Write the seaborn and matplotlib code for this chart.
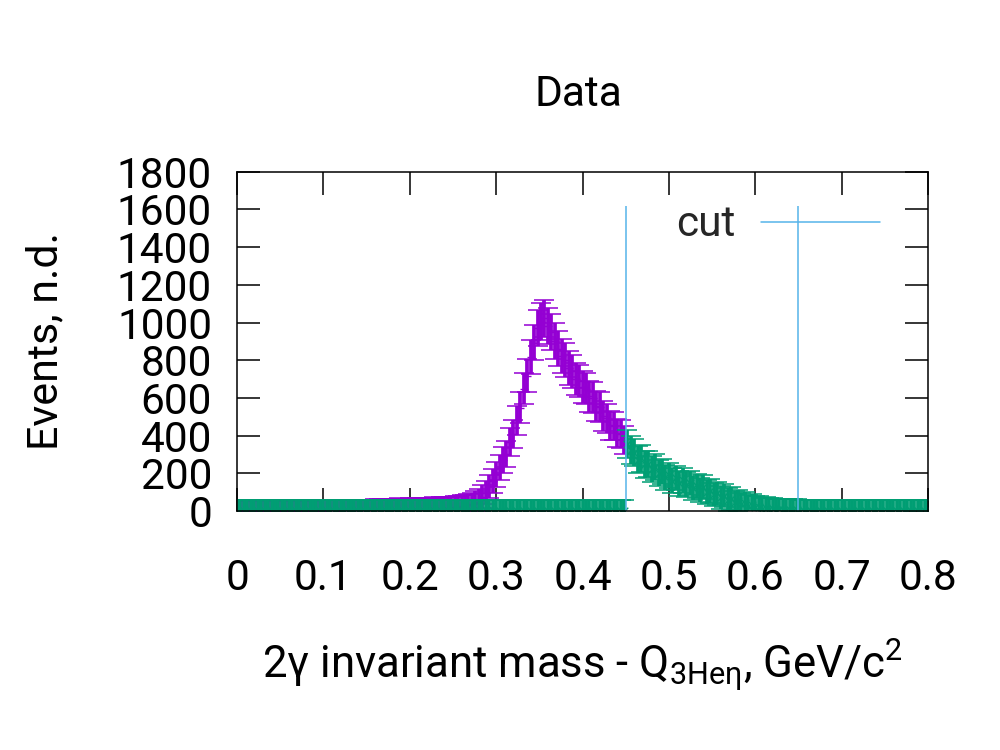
import numpy as np
import matplotlib
matplotlib.use("Agg")
import matplotlib.pyplot as plt
from matplotlib.lines import Line2D
import seaborn as sns

# ---------------- data ----------------
BIN_WIDTH = 0.004          # GeV/c^2 per bin
N_BINS = 201               # bins from 0 to 0.8

# purple: events below the cut window (bins 0..112)
purple_counts = [
    2, 0, 1, 3, 0, 2, 1, 0, 2, 3, 1, 0, 2, 1, 3, 2, 0, 1, 2, 3, 1, 2, 0, 3, 2,
    3, 2, 4, 3, 2, 5, 3, 4, 2, 5, 4, 3, 5, 6, 4,
    7, 5, 8, 6, 9, 7, 8, 10, 7, 9, 11, 8, 10, 12, 9,
    13, 11, 14, 12, 16, 14, 18, 16, 20, 19,
    24, 28, 33, 37, 47, 57, 76, 97, 130, 160,
    194, 229, 268, 302, 366, 409, 481, 549, 649, 718,
    815, 893, 972, 1003, 1022, 982, 951, 901, 862, 822,
    800, 758, 742, 700, 692, 656, 648, 608, 600, 558,
    550, 504, 492, 456, 450, 414, 409, 377,
]
purple_errors = [
    54, 54, 54, 54, 54, 54, 54, 54, 54, 54, 54, 54, 54, 54, 54, 54, 54, 54, 54, 54, 54, 54, 54, 54, 54,
    54, 54, 54, 54, 54, 54, 54, 54, 54, 54, 54, 54, 54, 54, 54,
    56, 56, 56, 56, 56, 56, 57, 57, 57, 57, 57, 57, 58, 58, 58,
    58, 58, 58, 58, 58, 58, 58, 58, 59, 59,
    59, 59, 59, 60, 60, 60, 61, 62, 63, 64,
    66, 67, 69, 70, 72, 74, 77, 80, 84, 87,
    90, 94, 97, 98, 99, 97, 96, 94, 92, 91,
    90, 89, 87, 86, 85, 85, 83, 83, 82, 81,
    80, 79, 77, 77, 76, 75, 74, 73,
]

# green: events inside the cut window (bins 113..162), zero elsewhere
green_first_bin = 113
green_counts = [
    356, 322, 310, 272, 279, 248, 250, 222, 232, 200,
    210, 178, 190, 160, 175, 148, 162, 140, 148, 122,
    133, 110, 125, 102, 106, 88, 94, 72, 81, 60,
    66, 47, 52, 36, 40, 26, 30, 19, 22, 12,
    15, 9, 11, 6, 8, 5, 7, 4, 6, 3,
]
green_errors = [
    76, 75, 73, 72, 71, 71, 70, 69, 69, 68,
    68, 67, 67, 66, 66, 66, 66, 65, 65, 64,
    64, 64, 64, 63, 63, 63, 62, 62, 62, 61,
    61, 60, 60, 60, 60, 59, 59, 59, 59, 59,
    59, 58, 58, 58, 58, 58, 58, 58, 58, 58,
]
empty_bin_error = 58

cut_positions = [0.45, 0.65]
cut_top = 1620
cut_label = "cut"

x_ticks = [0, 0.1, 0.2, 0.3, 0.4, 0.5, 0.6, 0.7, 0.8]
x_tick_labels = ["0", "0.1", "0.2", "0.3", "0.4", "0.5", "0.6", "0.7", "0.8"]
y_ticks = [0, 200, 400, 600, 800, 1000, 1200, 1400, 1600, 1800]
y_tick_labels = [str(v) for v in y_ticks]

title_text = "Data"
x_label = r"2γ invariant mass - Q$_{\mathregular{3Heη}}$, GeV/c$^{\mathregular{2}}$"
y_label = "Events, n.d."

PURPLE = "#9400D3"
GREEN = "#009E73"
BLUE = "#56B4E9"

# ---------------- style ----------------
sns.set_theme(style="ticks")
plt.rcParams["font.family"] = ["Roboto", "DejaVu Sans"]
plt.rcParams["mathtext.fontset"] = "custom"
plt.rcParams["mathtext.rm"] = "Roboto"
plt.rcParams["mathtext.it"] = "Roboto"
plt.rcParams["mathtext.default"] = "regular"

FS = 30.5

fig = plt.figure(figsize=(10, 7.5), dpi=100)
ax = fig.add_axes([0.237, 0.3187, 0.691, 0.4523])

purple_x = np.arange(len(purple_counts)) * BIN_WIDTH
all_x = np.arange(N_BINS) * BIN_WIDTH
green_y = np.zeros(N_BINS)
green_y[green_first_bin:green_first_bin + len(green_counts)] = green_counts
green_err = np.full(N_BINS, float(empty_bin_error))
green_err[green_first_bin:green_first_bin + len(green_errors)] = green_errors

EW = 2.7  # error-bar line width (pt); dense bins merge into a solid band

# purple data
ax.errorbar(purple_x, purple_counts, yerr=purple_errors, fmt="none",
            ecolor=PURPLE, elinewidth=EW, capsize=7, capthick=1.1, zorder=2)
sns.scatterplot(x=purple_x, y=purple_counts, marker="+", color=PURPLE,
                s=40, linewidth=1.0, ax=ax, zorder=2.1, legend=False)

# green data
ax.errorbar(all_x, green_y, yerr=green_err, fmt="none",
            ecolor=GREEN, elinewidth=EW, capsize=7, capthick=1.1, zorder=3)
sns.scatterplot(x=all_x, y=green_y, marker="x", color=GREEN,
                s=30, linewidth=1.0, ax=ax, zorder=3.1, legend=False)

# cut lines
ax.vlines(cut_positions, 0, cut_top, colors=BLUE, linewidth=1.1, zorder=4)

ax.set_xlim(0, 0.8)
ax.set_ylim(0, 1800)
ax.set_xticks(x_ticks)
ax.set_xticklabels(x_tick_labels)
ax.set_yticks(y_ticks)
ax.set_yticklabels(y_tick_labels)
ax.set_xlabel("")
ax.set_ylabel("")

for sp in ax.spines.values():
    sp.set_visible(True)
    sp.set_color("black")
    sp.set_linewidth(1.1)
    sp.set_zorder(5)

ax.tick_params(axis="both", which="major", direction="in", length=16.5,
               width=1.1, color="black", labelcolor="black",
               top=True, right=True, labelsize=FS)
ax.tick_params(axis="x", pad=34)
ax.tick_params(axis="y", pad=18)

ax.legend(handles=[Line2D([0], [0], color=BLUE, lw=1.1)], labels=[cut_label],
          loc="center right", bbox_to_anchor=(0.880, 0.700),
          bbox_transform=fig.transFigure, frameon=False, markerfirst=False,
          handlelength=2.8, handletextpad=0.6, borderpad=0, borderaxespad=0,
          fontsize=FS)

fig.text(0.578, 0.8587, title_text, ha="center", va="baseline", fontsize=FS, color="black")
fig.text(0.5825, 0.096, x_label, ha="center", va="baseline", fontsize=FS + 1, color="black")
fig.text(0.046, 0.545, y_label, ha="center", va="center", rotation=90, fontsize=FS + 0.5, color="black")

fig.savefig("out.png", dpi=100)
